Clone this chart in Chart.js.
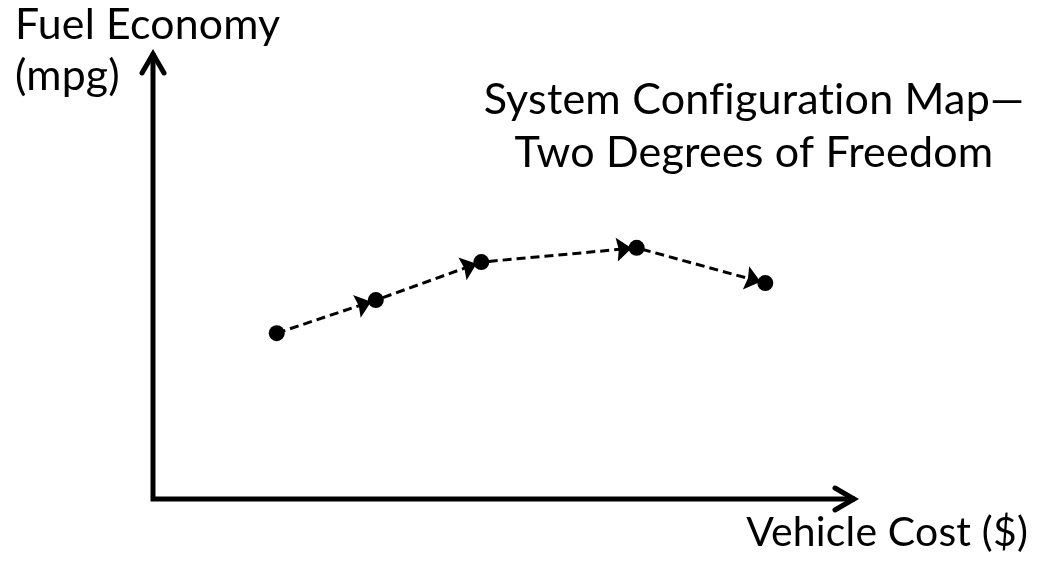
<!DOCTYPE html>
<html>
<head>
<meta charset="utf-8">
<script src="https://cdn.jsdelivr.net/npm/chart.js@4/dist/chart.umd.min.js"></script>
<style>
html,body{margin:0;padding:0;background:#fff;}
#wrap{width:1044px;height:561px;position:relative;}
</style>
</head>
<body>
<div id="wrap"><canvas id="c"></canvas></div>
<script>
// Data (relative units, axis has no numeric ticks)
const vehicleCost = [17.6, 31.7, 46.7, 68.8, 87.1];
const fuelEconomy = [37.1, 44.5, 53.0, 56.2, 48.3];
const yAxisTitleLines = ["Fuel Economy", "(mpg)"];
const xAxisTitle = "Vehicle Cost ($)";
const chartTitleLines = ["System Configuration Map\u2014", "Two Degrees of Freedom"];

const FONT = "Lato";

function setFont(ctx, px) {
  ctx.font = px + "px " + FONT;
  try { ctx.letterSpacing = "0.2px"; } catch (e) {}
}
function fitFont(ctx, text, width) {
  setFont(ctx, 100);
  const w = ctx.measureText(text).width;
  return 100 * width / w;
}

const decorPlugin = {
  id: "decor",
  beforeDatasetsDraw(chart) {
    const ctx = chart.ctx;
    const xs = chart.scales.x, ys = chart.scales.y;
    const x0 = xs.getPixelForValue(0), y0 = ys.getPixelForValue(0);
    const x1 = xs.getPixelForValue(100), y1 = ys.getPixelForValue(100);
    ctx.save();
    ctx.strokeStyle = "#000";
    ctx.lineWidth = 5;
    ctx.lineCap = "butt";
    ctx.beginPath();
    ctx.moveTo(x0, y0 + 2.5);
    ctx.lineTo(x0, y1 + 1);
    ctx.moveTo(x0 - 2.5, y0);
    ctx.lineTo(x1 - 1, y0);
    ctx.stroke();
    ctx.lineCap = "round";
    ctx.lineJoin = "miter";
    ctx.lineWidth = 5;
    ctx.beginPath();
    ctx.moveTo(x0 - 11, y1 + 21);
    ctx.lineTo(x0, y1 + 2);
    ctx.lineTo(x0 + 11, y1 + 21);
    ctx.moveTo(x1 - 21, y0 - 11);
    ctx.lineTo(x1 - 2, y0);
    ctx.lineTo(x1 - 21, y0 + 11);
    ctx.stroke();
    ctx.restore();
  },
  afterDatasetsDraw(chart) {
    const ctx = chart.ctx;
    const pts = chart.getDatasetMeta(0).data;
    ctx.save();
    ctx.fillStyle = "#000";
    for (let i = 1; i < pts.length; i++) {
      const a = pts[i - 1], b = pts[i];
      const dx = b.x - a.x, dy = b.y - a.y;
      const L = Math.hypot(dx, dy);
      const ux = dx / L, uy = dy / L;
      const px = -uy, py = ux;
      const tipD = 5, len = 15, hw = 12;
      const tx = b.x - ux * tipD, ty = b.y - uy * tipD;
      const bx = tx - ux * len, by = ty - uy * len;
      const nx = tx - ux * (len - 2), ny = ty - uy * (len - 2);
      ctx.beginPath();
      ctx.moveTo(tx, ty);
      ctx.lineTo(bx + px * hw, by + py * hw);
      ctx.lineTo(nx, ny);
      ctx.lineTo(bx - px * hw, by - py * hw);
      ctx.closePath();
      ctx.fill();
    }
    ctx.restore();
  },
  afterDraw(chart) {
    const ctx = chart.ctx;
    ctx.save();
    ctx.fillStyle = "#000";
    ctx.textBaseline = "alphabetic";
    // y axis title (top-left)
    let s = fitFont(ctx, yAxisTitleLines[0], 264);
    setFont(ctx, s);
    ctx.textAlign = "left";
    ctx.fillText(yAxisTitleLines[0], 15, 39);
    ctx.fillText(yAxisTitleLines[1], 15, 90);
    // chart title (centered)
    s = fitFont(ctx, chartTitleLines[0], 538);
    setFont(ctx, s);
    ctx.textAlign = "center";
    ctx.fillText(chartTitleLines[0], 754, 114);
    ctx.fillText(chartTitleLines[1], 754, 167);
    // x axis title
    s = fitFont(ctx, xAxisTitle, 280);
    setFont(ctx, s);
    ctx.textAlign = "right";
    ctx.fillText(xAxisTitle, 1028, 546);
    ctx.restore();
  }
};

new Chart(document.getElementById("c"), {
  type: "scatter",
  data: {
    datasets: [{
      data: vehicleCost.map((x, i) => ({ x: x, y: fuelEconomy[i] })),
      showLine: true,
      borderColor: "#000",
      borderWidth: 3,
      borderDash: [9, 5],
      pointRadius: 8,
      pointBackgroundColor: "#000",
      pointBorderWidth: 0,
      pointHoverRadius: 8,
      clip: false
    }]
  },
  options: {
    responsive: true,
    maintainAspectRatio: false,
    animation: false,
    layout: { padding: { left: 153, right: 188, top: 52, bottom: 62 } },
    plugins: { legend: { display: false }, tooltip: { enabled: false }, title: { display: false } },
    scales: {
      x: { display: false, min: 0, max: 100 },
      y: { display: false, min: 0, max: 100 }
    }
  },
  plugins: [decorPlugin]
});
</script>
</body>
</html>
